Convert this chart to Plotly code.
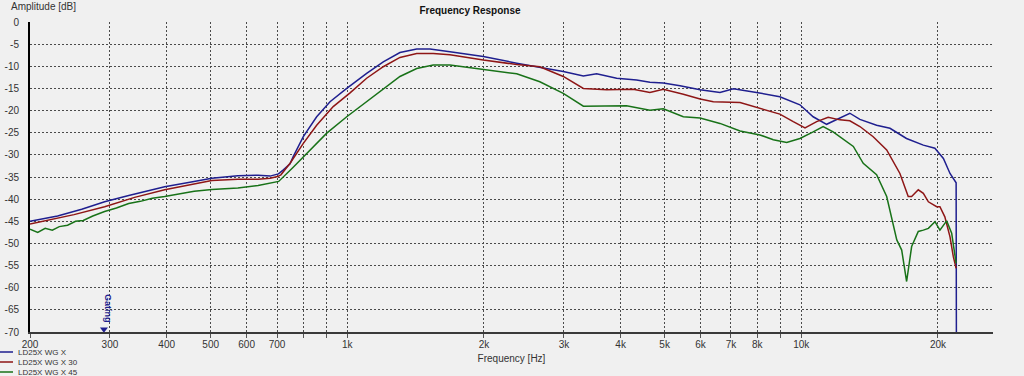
import numpy as np
import plotly.graph_objects as go

# ---------------- data ----------------
freq_blue = [200, 230, 260, 292, 330, 360, 396, 450, 503, 574, 636, 676, 705, 723, 748, 760, 800,
             856, 916, 997, 1103, 1200, 1306, 1422, 1521, 1683, 1993, 2361, 2655, 2990, 3311, 3541,
             3920, 4337, 4640, 4966, 5406, 5985, 6620, 7087, 7967, 8969, 9930, 10620, 11370, 12160,
             12790, 13460, 14650, 15680, 17050, 18570, 19690, 20560, 21260, 21930, 21960]
db_blue = [-45.0, -43.8, -42.3, -40.6, -39.2, -38.2, -37.2, -36.2, -35.3, -34.7, -34.6, -34.8, -34.3,
           -33.4, -32.0, -30.4, -25.9, -21.4, -18.0, -15.0, -11.6, -9.0, -6.9, -6.1, -6.1, -6.7,
           -7.8, -9.3, -10.2, -11.2, -12.2, -11.7, -12.7, -13.1, -13.6, -13.8, -14.4, -15.3, -15.9,
           -15.1, -15.9, -16.9, -18.7, -21.4, -23.1, -21.7, -20.6, -22.0, -23.3, -24.0, -26.3,
           -27.8, -28.5, -30.8, -34.2, -36.3, -72.0]

freq_red = [200, 250, 292, 340, 396, 450, 503, 574, 636, 676, 702, 714, 748, 800, 856, 931, 1014,
            1103, 1200, 1306, 1422, 1546, 1683, 1993, 2361, 2655, 2990, 3311, 3726, 4262, 4640,
            4966, 5497, 5985, 6400, 7330, 8110, 8969, 9600, 10190, 10810, 11460, 12160, 12790,
            13460, 14400, 15420, 16490, 17200, 17500, 18100, 18570, 19050, 19870, 20200, 20710,
            21260, 21620, 21930]
db_red = [-45.6, -43.5, -41.7, -39.6, -37.9, -36.8, -35.8, -35.5, -35.5, -35.3, -34.9, -34.5, -31.9,
          -27.4, -23.3, -19.1, -16.0, -12.7, -10.1, -8.0, -7.1, -7.1, -7.4, -8.6, -9.6, -10.1,
          -12.3, -15.0, -15.3, -15.2, -15.9, -15.2, -16.3, -17.4, -18.0, -18.2, -19.5, -20.8,
          -22.5, -23.9, -22.5, -21.5, -22.1, -22.3, -23.6, -25.9, -28.9, -34.2, -39.4, -39.4,
          -37.9, -38.7, -40.6, -41.7, -41.7, -44.0, -48.5, -53.0, -55.6]

freq_green = [200, 208, 216, 224, 232, 242, 252, 262, 275, 292, 310, 330, 350, 372, 396, 430, 460,
              503, 540, 574, 636, 676, 706, 760, 828, 901, 997, 1103, 1200, 1306, 1422, 1546, 1683,
              1993, 2361, 2655, 2990, 3311, 3726, 4121, 4640, 4966, 5497, 5985, 6620, 7330, 8110,
              8676, 9285, 9930, 10620, 11170, 11750, 12160, 12790, 13020, 13690, 14650, 15420,
              16230, 16640, 17060, 17500, 18100, 18570, 19050, 19700, 20200, 20900, 21440, 21930]
db_green = [-46.8, -47.5, -46.6, -47.0, -46.2, -45.9, -45.0, -44.8, -43.8, -42.8, -42.0, -41.0,
            -40.5, -39.8, -39.4, -38.8, -38.2, -37.8, -37.6, -37.5, -36.9, -36.4, -36.0, -32.8,
            -28.9, -25.1, -21.4, -18.0, -15.0, -12.3, -10.5, -9.7, -9.7, -10.7, -11.7, -13.5,
            -16.1, -19.0, -19.0, -18.9, -19.9, -19.6, -21.4, -21.7, -22.9, -24.6, -25.5, -26.6,
            -27.2, -26.3, -24.8, -23.6, -24.8, -25.9, -27.4, -28.1, -31.9, -34.5, -39.4, -49.2,
            -51.5, -58.6, -50.7, -47.3, -47.0, -46.6, -45.1, -47.0, -44.9, -47.7, -54.5]

series_names = ["LD25X WG X", "LD25X WG X 30", "LD25X WG X 45"]
series_colors = ["#1f1f8f", "#8e1616", "#187218"]

x_tickvals = [200, 300, 400, 500, 600, 700, 800, 900, 1000, 2000, 3000, 4000, 5000, 6000, 7000,
              8000, 9000, 10000, 20000]
x_ticktext = ["200", "300", "400", "500", "600", "700", "", "", "1k", "2k", "3k", "4k", "5k", "6k",
              "7k", "8k", "", "10k", "20k"]
y_tickvals = list(range(-70, 1, 5))
y_ticktext = [str(v) for v in y_tickvals]

gating_freq = 291
x_min, x_max = 200, 26440
y_min, y_max = -70, 0

FONT = "Liberation Sans, Arial, sans-serif"
BG = "#f0f0f0"
W, H = 1024, 376

fig = go.Figure()
for i, (fx, fy) in enumerate([(freq_blue, db_blue), (freq_red, db_red), (freq_green, db_green)]):
    fig.add_trace(go.Scatter(
        x=fx, y=fy, mode="lines", name=series_names[i],
        line=dict(color=series_colors[i], width=1.5),
        legend=["legend", "legend2", "legend3"][i],
    ))

# gating marker
fig.add_trace(go.Scatter(
    x=[gating_freq], y=[y_min + 0.6], mode="markers", showlegend=False,
    marker=dict(symbol="triangle-down", size=7, color="#1f1f8f"), cliponaxis=False,
))
fig.add_annotation(x=np.log10(gating_freq), y=-64.8, xref="x", yref="y", text="<b>Gating</b>",
                   textangle=90, showarrow=False, xshift=4,
                   font=dict(family=FONT, size=9, color="#1f1f8f"))

fig.add_annotation(x=0, y=1, xref="paper", yref="paper", xanchor="left", yanchor="middle",
                   text="Amplitude [dB]", showarrow=False, xshift=-21, yshift=16,
                   font=dict(family=FONT, size=10, color="#333333"))

grid = dict(showgrid=True, gridcolor="#4a4a4a", gridwidth=1, griddash="2px,2px")

fig.update_layout(
    width=W, height=H,
    margin=dict(l=30, r=31, t=22, b=44, autoexpand=False),
    paper_bgcolor=BG, plot_bgcolor=BG,
    font=dict(family=FONT, size=10, color="#333333"),
    title=dict(text="<b>Frequency Response</b>", x=470 / W, xanchor="center", y=1 - 10 / H,
               yanchor="middle", automargin=False,
               font=dict(family=FONT, size=10, color="#111111")),
    xaxis=dict(type="log", range=[np.log10(x_min), np.log10(x_max)], tickvals=x_tickvals,
               ticktext=x_ticktext, showline=True, linecolor="#3a3a3a", linewidth=2,
               ticks="outside", ticklen=4, tickcolor="#555555", tickwidth=1, zeroline=False,
               automargin=False, ticklabelstandoff=-2,
               tickfont=dict(size=10, color="#333333"),
               title=dict(text="Frequency [Hz]", standoff=6, font=dict(size=10, color="#333333")),
               **grid),
    yaxis=dict(range=[y_min, y_max], tickvals=y_tickvals, ticktext=y_ticktext, showline=True,
               linecolor="#000000", linewidth=2, ticks="", zeroline=False, automargin=False,
               ticklabelstandoff=7,
               tickfont=dict(size=10, color="#333333"), **grid),
    showlegend=True,
)

leg_common = dict(x=-0.054, xanchor="left", yanchor="middle", bgcolor="rgba(0,0,0,0)",
                  borderwidth=0, font=dict(family=FONT, size=8, color="#333333"),
                  itemwidth=30, tracegroupgap=0)
fig.update_layout(
    legend=dict(y=(310 - 330) / 310, **leg_common),
    legend2=dict(y=(310 - 340) / 310, **leg_common),
    legend3=dict(y=(310 - 350) / 310, **leg_common),
)

# remove the browser's default 8px page margin so the figure fills the window exactly
fig.write_html("out.html", config={"displayModeBar": False},
               post_script="document.body.style.margin='0px';")
